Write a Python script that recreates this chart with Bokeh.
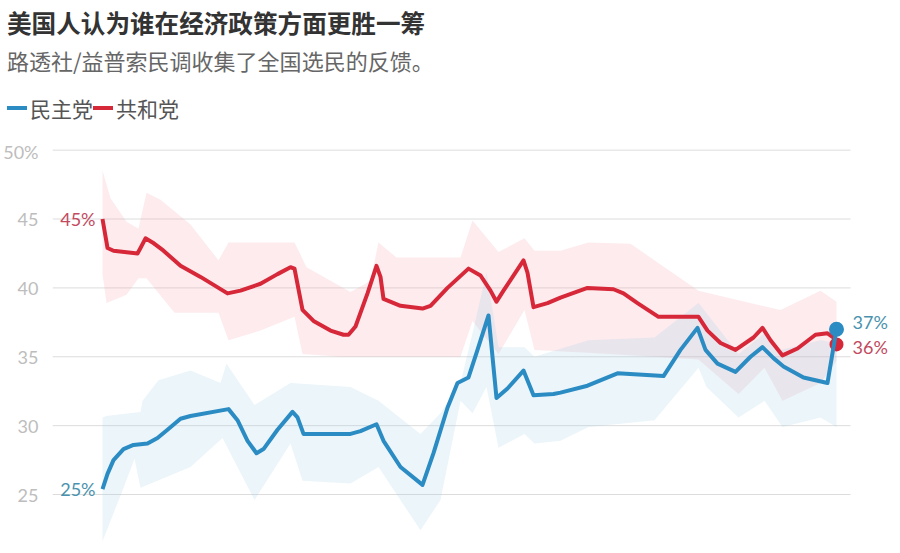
from bokeh.plotting import figure
from bokeh.models import Label, Range1d, FixedTicker, Div
from bokeh.layouts import column
from bokeh.embed import file_html
from bokeh.resources import INLINE

# ---- data (day index since first poll, percent) ----
rep_days = [0, 2.5, 5.5, 17.5, 19, 21.5, 25, 30.5, 39, 49, 62.5, 69, 79, 87.5, 94, 96, 100, 105.5,
            114, 120.5, 123, 126.5, 132.5, 137, 139, 140.5, 149, 160, 164, 172.5, 183, 189, 194, 197,
            200.5, 210.5, 212.5, 215.5, 222.5, 229, 242.5, 255.5, 260.5, 267.5, 278, 298, 302.5, 309,
            316.5, 325.5, 330, 334, 340, 347.5, 356.5, 362.5, 365.5, 367]
rep_vals = [45.0, 42.9, 42.7, 42.5, 42.9, 43.6, 43.3, 42.7, 41.6, 40.8, 39.6, 39.8, 40.3, 41.0, 41.5,
            41.4, 38.4, 37.6, 36.9, 36.6, 36.6, 37.2, 39.6, 41.6, 40.8, 39.2, 38.7, 38.5, 38.7, 40.0,
            41.4, 40.9, 39.8, 39.0, 39.8, 42.0, 41.1, 38.6, 38.9, 39.3, 40.0, 39.9, 39.6, 38.9, 37.9,
            37.9, 36.9, 36.0, 35.5, 36.4, 37.1, 36.2, 35.1, 35.6, 36.6, 36.7, 36.4, 35.9]

dem_days = [0, 2.5, 5.5, 10.5, 15.5, 22.5, 27.5, 32.5, 39, 44, 63, 67.5, 72.5, 77, 80.5, 87.5, 95,
            97.5, 100.5, 124, 129, 137, 140.5, 149, 160, 165.5, 172.5, 177.5, 183, 187.5, 193, 197,
            202.5, 210.5, 215.5, 225.5, 229, 242.5, 257.5, 280.5, 289, 297.5, 301.5, 307.5, 316.5,
            324, 330, 335.5, 340.5, 350.5, 362.5, 367]
dem_vals = [25.4, 26.5, 27.5, 28.3, 28.6, 28.7, 29.1, 29.7, 30.5, 30.7, 31.2, 30.4, 28.9, 28.0, 28.3,
            29.7, 31.0, 30.6, 29.4, 29.4, 29.6, 30.1, 28.9, 27.0, 25.7, 28.0, 31.3, 33.1, 33.5, 35.5,
            38.0, 32.0, 32.7, 34.0, 32.2, 32.3, 32.4, 32.9, 33.8, 33.6, 35.5, 37.1, 35.5, 34.5, 33.9,
            35.0, 35.7, 34.9, 34.3, 33.5, 33.1, 37.0]

rep_hi_days = [0, 4, 12, 18, 22, 29, 44, 58, 63, 96, 102, 124, 134, 138, 147, 179, 185, 198, 211, 216,
               229, 243, 264, 298, 318, 339, 359, 367]
rep_hi_vals = [48.5, 46.5, 44.8, 44.3, 46.9, 46.4, 44.6, 42.0, 43.3, 43.3, 41.5, 39.7, 40.5, 43.3, 42.2,
               42.2, 44.9, 42.6, 43.6, 42.7, 42.7, 43.3, 43.2, 39.8, 39.1, 38.4, 39.8, 39.0]
rep_lo_days = [0, 2, 12, 18, 22, 36, 58, 63, 79, 96, 100, 119, 139, 179, 185, 198, 211, 216, 243, 276,
               298, 318, 331, 340, 359, 367]
rep_lo_vals = [41.0, 38.9, 39.5, 40.7, 40.7, 38.2, 38.2, 36.2, 36.9, 37.9, 35.2, 35.0, 35.0, 35.0, 37.6,
               35.2, 38.4, 35.5, 35.3, 35.0, 34.8, 32.3, 34.2, 31.8, 33.1, 34.7]

dem_hi_days = [0, 2, 19, 20, 28, 44, 59, 62, 76, 94, 124, 138, 159, 169, 179, 185, 192, 198, 211, 216,
               243, 276, 298, 318, 331, 339, 359, 367]
dem_hi_vals = [30.6, 30.7, 31.0, 31.8, 33.3, 34.0, 33.1, 34.5, 31.5, 33.1, 32.8, 31.8, 29.4, 30.9, 33.1,
               36.7, 41.1, 35.7, 35.7, 35.0, 36.2, 36.4, 38.9, 35.2, 36.7, 35.5, 36.2, 36.0]
dem_lo_days = [0, 10, 16, 19, 44, 60, 76, 94, 100, 124, 138, 159, 169, 179, 185, 192, 198, 211, 216, 229,
               243, 276, 298, 302, 318, 331, 340, 359, 367]
dem_lo_vals = [21.6, 25.3, 27.6, 25.5, 27.0, 29.1, 24.6, 28.7, 26.0, 25.8, 27.0, 22.4, 24.6, 31.8, 30.9,
               32.8, 28.4, 29.4, 28.7, 28.9, 29.9, 30.4, 34.2, 32.8, 30.6, 31.8, 29.9, 30.6, 29.9]

y_ticks = [25, 30, 35, 40, 45, 50]
y_tick_labels = {25: "25", 30: "30", 35: "35", 40: "40", 45: "45", 50: "50%"}

title_text = "美国人认为谁在经济政策方面更胜一筹"
subtitle_text = "路透社/益普索民调收集了全国选民的反馈。"
dem_name = "民主党"
rep_name = "共和党"

CJK = "Noto Sans CJK SC"
NUM = "Lato"
RED = "#d62839"
BLUE = "#2b8bc3"
RED_TXT = "#c24a5e"
BLUE_TXT = "#4a92ad"

X0, X1 = -25, 374

# ---- header: title, subtitle, legend ----
def key(color, label):
    return ('<span style="display:inline-block;width:20px;height:4px;background:%s;'
            'vertical-align:middle;margin-right:3px"></span>'
            '<span style="vertical-align:middle">%s</span>' % (color, label))

header_html = (
    '<div style="font-family:\'%s\';white-space:nowrap;margin:0;padding:8px 0 0 7px">'
    '<div style="font-size:24.6px;font-weight:bold;color:#333333;line-height:28px;margin:0">%s</div>'
    '<div style="font-size:22px;color:#666666;line-height:26px;margin:11px 0 0 0">%s</div>'
    '<div style="font-size:21px;color:#555555;line-height:26px;margin:19px 0 0 0">%s%s</div>'
    '</div>' % (CJK, title_text, subtitle_text, key(BLUE, dem_name), key(RED, rep_name))
)
header = Div(text=header_html, width=892, height=140, margin=(0, 0, 0, 0))

p = figure(width=892, height=405, output_backend="svg", toolbar_location=None,
           x_range=Range1d(X0, 395), y_range=Range1d(21.3, 50.7),
           min_border_left=52, min_border_right=0, min_border_top=0, min_border_bottom=0,
           margin=(0, 0, 0, 0))
p.outline_line_color = None
p.xaxis.visible = False
p.xgrid.visible = False
p.ygrid.visible = False
p.yaxis.ticker = FixedTicker(ticks=y_ticks)
p.yaxis.major_label_overrides = y_tick_labels
p.yaxis.axis_line_color = None
p.yaxis.major_tick_line_color = None
p.yaxis.minor_tick_line_color = None
p.yaxis.major_label_text_color = "#bdbdbd"
p.yaxis.major_label_text_font = NUM
p.yaxis.major_label_text_font_size = "18px"
p.yaxis.major_label_standoff = 8

# horizontal grid lines at the tick values, ending before the right-hand labels
p.segment(x0=[X0] * len(y_ticks), y0=y_ticks, x1=[X1] * len(y_ticks), y1=y_ticks,
          line_color="#dcdcdc", line_width=1)

# confidence bands
p.patch(rep_hi_days + rep_lo_days[::-1], rep_hi_vals + rep_lo_vals[::-1],
        fill_color="#f4a6b0", fill_alpha=0.22, line_color=None)
p.patch(dem_hi_days + dem_lo_days[::-1], dem_hi_vals + dem_lo_vals[::-1],
        fill_color="#9ccbe8", fill_alpha=0.2, line_color=None)

# lines and end points
p.line(rep_days, rep_vals, line_color=RED, line_width=4, line_join="round")
p.scatter(rep_days[-1:], rep_vals[-1:], size=14, fill_color=RED, line_color=None)
p.line(dem_days, dem_vals, line_color=BLUE, line_width=4, line_join="round")
p.scatter(dem_days[-1:], dem_vals[-1:], size=15, fill_color=BLUE, line_color=None)

# start / end labels
for x, y, txt, col, align, xo, yo in [
    (rep_days[0], rep_vals[0], "%d%%" % round(rep_vals[0]), RED_TXT, "right", -7, 0),
    (dem_days[0], dem_vals[0], "%d%%" % round(dem_vals[0]), BLUE_TXT, "right", -7, 0),
    (dem_days[-1], dem_vals[-1], "%d%%" % round(dem_vals[-1]), BLUE_TXT, "left", 16, 7),
    (rep_days[-1], rep_vals[-1], "%d%%" % round(rep_vals[-1]), RED_TXT, "left", 16, -3),
]:
    p.add_layout(Label(x=x, y=y, text=txt, text_color=col, text_align=align, text_baseline="middle",
                       x_offset=xo, y_offset=yo, text_font=NUM, text_font_size="18px"))

layout = column(header, p, spacing=0, margin=(0, 0, 0, 0))
open("out.html", "w").write(file_html(layout, INLINE))
